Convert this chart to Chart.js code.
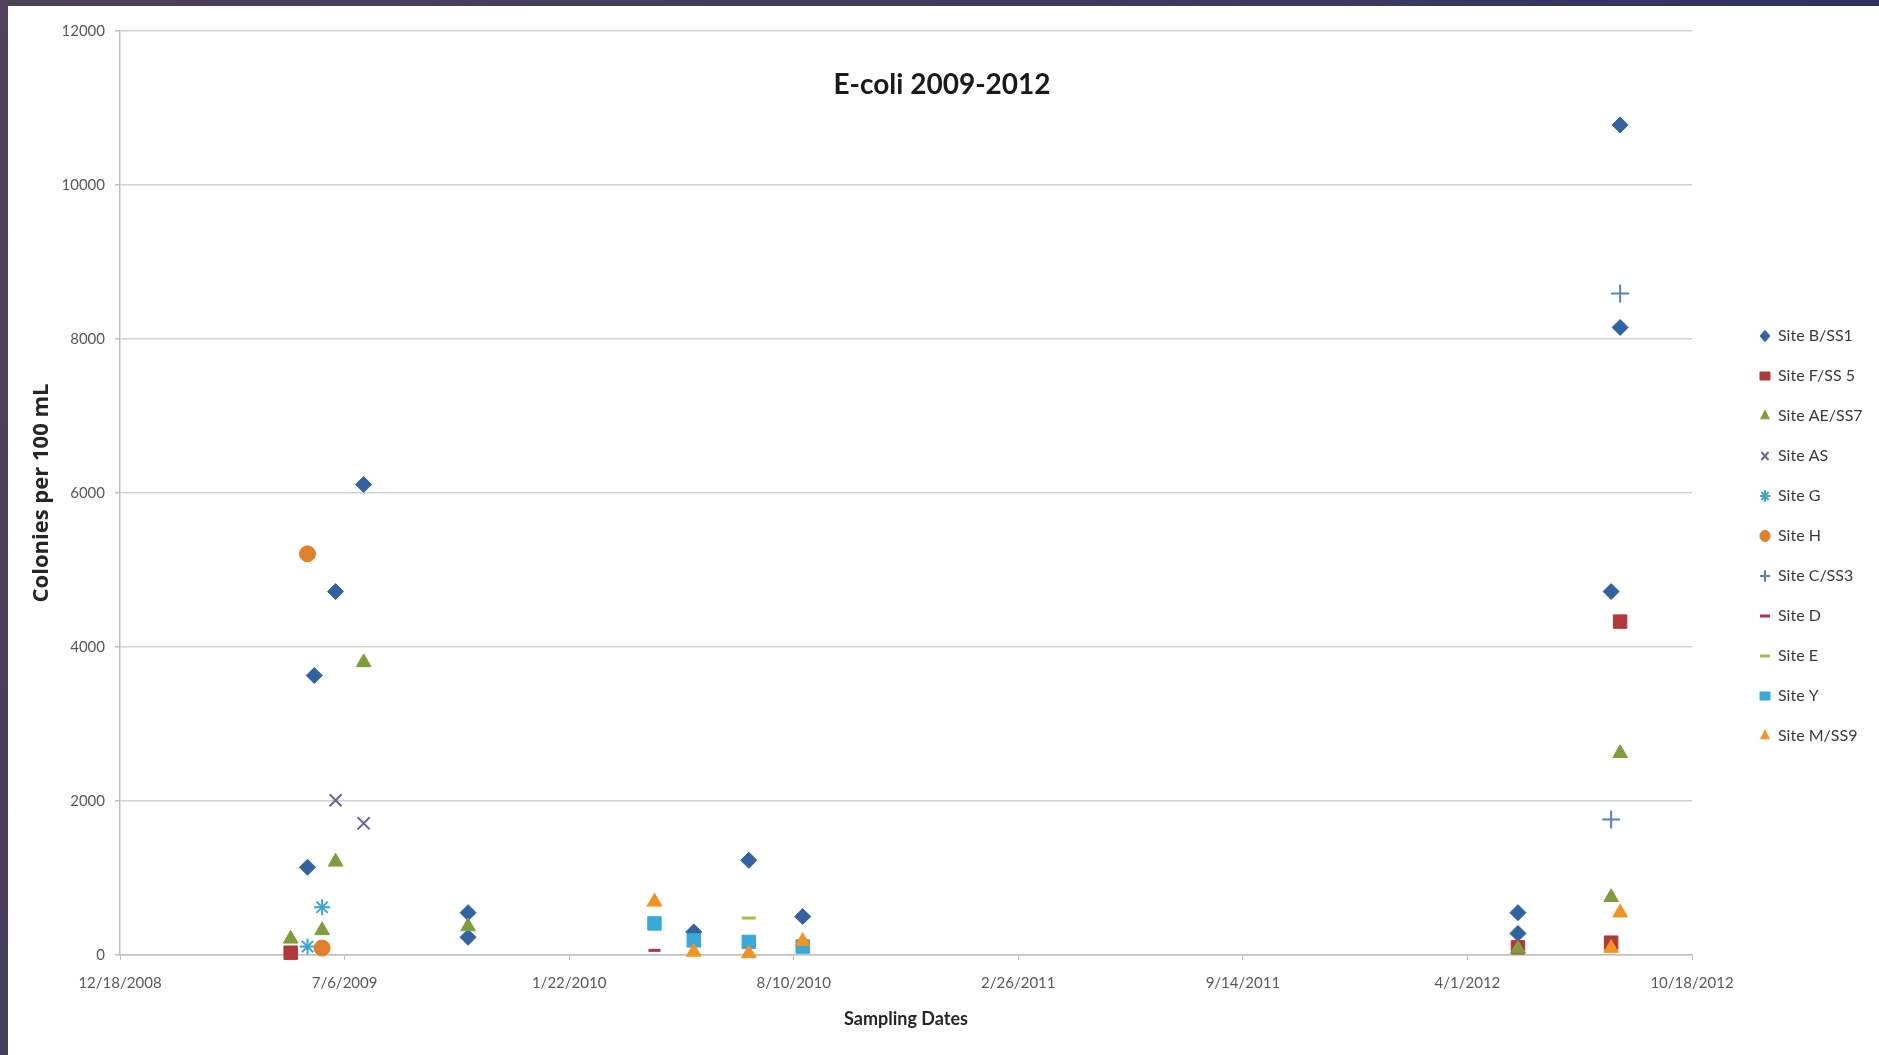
<!DOCTYPE html>
<html>
<head>
<meta charset="utf-8">
<title>E-coli 2009-2012</title>
<script src="https://cdn.jsdelivr.net/npm/chart.js@4.4.1/dist/chart.umd.min.js"></script>
<style>
    html, body { margin: 0; padding: 0; }
    body
    {
        width: 1879px;
        height: 1055px;
        overflow: hidden;
        position: relative;
        background: linear-gradient(120deg, #4d4258 0%, #3b3860 55%, #24285a 100%);
    }
    #frame
    {
        position: absolute;
        left: 8px;
        top: 6px;
        width: 1871px;
        height: 1049px;
        background: #ffffff;
    }
    #chartTitle
    {
        position: absolute;
        left: 734px;
        top: 60px;
        width: 400px;
        line-height: 40px;
        text-align: center;
        font: bold 28px Lato, sans-serif;
        color: #1a1a1a;
        z-index: 2;
    }
</style>
</head>
<body>
<div id="frame">
    <div id="chartTitle">E-coli 2009-2012</div>
    <canvas id="ecoliChart"></canvas>
</div>
<script>
// sampling dates and colony counts, one pair of arrays per site
const siteNames = ['Site B/SS1', 'Site F/SS 5', 'Site AE/SS7', 'Site AS', 'Site G', 'Site H',
                   'Site C/SS3', 'Site D', 'Site E', 'Site Y', 'Site M/SS9'];

const siteBDates  = ['6/3/2009', '6/9/2009', '6/28/2009', '7/23/2009', '10/24/2009', '10/24/2009', '5/13/2010',
                     '7/1/2010', '8/18/2010', '5/16/2012', '5/16/2012', '8/7/2012', '8/15/2012', '8/15/2012'];
const siteBCounts = [1140, 3630, 4720, 6110, 550, 230, 300, 1230, 500, 550, 280, 4720, 10780, 8150];

const siteFDates  = ['5/19/2009', '5/16/2012', '8/7/2012', '8/15/2012'];
const siteFCounts = [30, 100, 160, 4330];

const siteAEDates  = ['5/19/2009', '6/16/2009', '6/28/2009', '7/23/2009', '10/24/2009', '5/16/2012', '8/7/2012', '8/15/2012'];
const siteAECounts = [210, 320, 1210, 3800, 370, 80, 750, 2620];

const siteASDates  = ['6/28/2009', '7/23/2009'];
const siteASCounts = [2010, 1710];

const siteGDates  = ['6/3/2009', '6/16/2009'];
const siteGCounts = [110, 620];

const siteHDates  = ['6/3/2009', '6/16/2009'];
const siteHCounts = [5210, 90];

const siteCDates  = ['8/7/2012', '8/15/2012'];
const siteCCounts = [1760, 8590];

const siteDDates  = ['4/8/2010'];
const siteDCounts = [60];

const siteEDates  = ['7/1/2010'];
const siteECounts = [480];

const siteYDates  = ['4/8/2010', '5/13/2010', '7/1/2010', '8/18/2010'];
const siteYCounts = [410, 190, 170, 110];

const siteMDates  = ['4/8/2010', '5/13/2010', '7/1/2010', '8/18/2010', '8/7/2012', '8/15/2012'];
const siteMCounts = [690, 40, 20, 180, 90, 550];

// axis: days counted from the first tick, one tick every 200 days
const startDate = '12/18/2008';
const axisDays  = 1400;
const tickDays  = 200;
const yMax      = 12000;
const yStep     = 2000;

const allDates  = [siteBDates, siteFDates, siteAEDates, siteASDates, siteGDates, siteHDates,
                   siteCDates, siteDDates, siteEDates, siteYDates, siteMDates];
const allCounts = [siteBCounts, siteFCounts, siteAECounts, siteASCounts, siteGCounts, siteHCounts,
                   siteCCounts, siteDCounts, siteECounts, siteYCounts, siteMCounts];

// looks
const markerStyles = ['rectRot', 'rect', 'triangle', 'crossRot', 'star', 'circle', 'cross', 'line', 'line', 'rect', 'triangle'];
const markerColors = ['#3162a3', '#b3383c', '#7f9e3b', '#6d6394', '#3ba7c9', '#e0802c',
                      '#5a80c2', '#b0305a', '#a2bd48', '#3aa8d8', '#f4931f'];
const markerSizes  = [8, 9.5, 8.5, 8.5, 8, 8, 9, 6, 7, 9.5, 8.5];

const DAY = 86400000;
function toUTC(s)
{
    const [m, d, y] = s.split('/').map(Number);
    return Date.UTC(y, m - 1, d);
}
const ORIGIN = toUTC(startDate);
function dayOf(s) { return (toUTC(s) - ORIGIN) / DAY; }
function dateLabel(days)
{
    const dt = new Date(ORIGIN + days * DAY);
    return (dt.getUTCMonth() + 1) + '/' + dt.getUTCDate() + '/' + dt.getUTCFullYear();
}

const lineStyles = ['cross', 'crossRot', 'star', 'line'];
const datasets = siteNames.map((name, i) => ({
    label: name,
    data: allDates[i].map((d, j) => ({ x: dayOf(d), y: allCounts[i][j] })),
    pointStyle: markerStyles[i],
    pointRadius: markerSizes[i],
    backgroundColor: markerColors[i],
    borderColor: markerColors[i],
    borderWidth: markerStyles[i] === 'line' ? 3 : (lineStyles.includes(markerStyles[i]) ? 2 : 1),
    showLine: false,
    clip: false,
    order: siteNames.length - i
}));

// legend geometry, so the plot area ends where the reference's does
const LEGEND_FONT = 16, LEGEND_BOX = 10, LEGEND_PAD = 24;
const CANVAS_W = 1871, PLOT_RIGHT = 1684, LEGEND_X = 1752;
const LEGEND_TOP = 322;
const mctx = document.createElement('canvas').getContext('2d');
mctx.font = LEGEND_FONT + 'px Lato';
const textW = Math.max(...siteNames.map(n => mctx.measureText(n).width));
const colW = LEGEND_BOX + LEGEND_FONT / 2 + textW;
const padRight = Math.max(0, CANVAS_W - 10 - colW - LEGEND_X);
const legendLeft = CANVAS_W - padRight - (LEGEND_PAD + colW + 10);
const spacerW = Math.max(0, legendLeft - PLOT_RIGHT);
// an empty legend title pushes the first item down to LEGEND_TOP
const legendGap = LEGEND_TOP - 25 - LEGEND_PAD - 12;

const ctx = document.getElementById('ecoliChart').getContext('2d');
new Chart(ctx, {
    type: 'scatter',
    data: { datasets: datasets },
    options:
    {
        responsive: true,
        maintainAspectRatio: false,
        animation: false,
        events: [],
        layout: { padding: { top: 25, left: 0, bottom: 0, right: padRight } },
        plugins:
        {
            tooltip: { enabled: false },
            legend:
            {
                position: 'right',
                align: 'start',
                title:
                {
                    display: true,
                    text: ' ',
                    font: { size: 10, lineHeight: 1.2 },
                    padding: { top: legendGap, bottom: 0 }
                },
                labels:
                {
                    usePointStyle: true,
                    pointStyleWidth: LEGEND_BOX,
                    boxHeight: 8,
                    padding: LEGEND_PAD,
                    color: '#3a3a3a',
                    font: { family: 'Lato', size: LEGEND_FONT },
                    sort: (a, b) => a.datasetIndex - b.datasetIndex
                }
            }
        },
        scales:
        {
            x:
            {
                type: 'linear',
                min: 0,
                max: axisDays,
                afterFit: s => { s.height = 100; },
                ticks:
                {
                    stepSize: tickDays,
                    padding: 14,
                    color: '#595959',
                    font: { family: 'Lato', size: 15 },
                    maxRotation: 0,
                    callback: v => dateLabel(v)
                },
                grid: { drawOnChartArea: false, tickLength: 5, tickColor: '#bfbfbf' },
                border: { color: '#bfbfbf', width: 1.5 },
                title:
                {
                    display: true,
                    text: 'Sampling Dates',
                    color: '#262626',
                    font: { family: 'Lato', size: 18, weight: 'bold' },
                    padding: { top: 0, bottom: 25 }
                }
            },
            y:
            {
                min: 0,
                max: yMax,
                afterFit: s => { s.width = 112; },
                ticks:
                {
                    stepSize: yStep,
                    padding: 10,
                    color: '#595959',
                    font: { family: 'Lato', size: 15 },
                    callback: v => String(v)
                },
                grid: { color: '#d2d2d2', lineWidth: 1.5, tickLength: 5, tickColor: '#bfbfbf' },
                border: { color: '#bfbfbf', width: 1.5 },
                title:
                {
                    display: true,
                    text: 'Colonies per 100 mL',
                    color: '#262626',
                    font: { family: 'Open Sans', size: 22, weight: 'bold' },
                    padding: { top: 21, bottom: 0 }
                }
            },
            spacer:
            {
                type: 'linear',
                position: 'right',
                afterFit: s => { s.width = spacerW; },
                ticks: { display: false },
                grid: { display: false },
                border: { display: false }
            }
        }
    }
});
</script>
</body>
</html>
